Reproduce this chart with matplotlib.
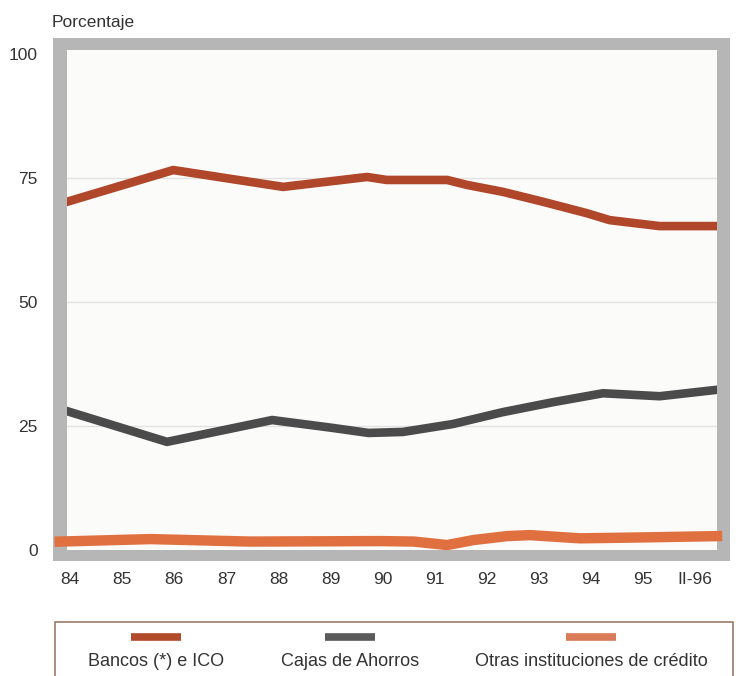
import matplotlib
matplotlib.use("Agg")
import matplotlib.pyplot as plt
from matplotlib.patches import Rectangle
from matplotlib.lines import Line2D

plt.rcParams['font.family'] = ['Liberation Sans', 'DejaVu Sans']

# Cuota de mercado por tipo de entidad (porcentaje)
bancos_x = [83.94, 85.98, 88.09, 89.70, 90.08, 91.24, 91.62, 92.31, 93.08, 93.92, 94.36, 95.32, 96.42]
bancos_y = [70.2, 76.6, 73.2, 75.2, 74.6, 74.6, 73.6, 72.2, 70.2, 67.9, 66.5, 65.3, 65.3]

cajas_x = [83.94, 85.86, 87.88, 89.05, 89.73, 90.39, 91.35, 92.31, 93.27, 94.23, 95.32, 96.42]
cajas_y = [28.0, 21.8, 26.2, 24.6, 23.6, 23.8, 25.4, 27.8, 29.8, 31.6, 31.0, 32.3]

otras_x = [83.80, 85.54, 87.45, 89.95, 90.60, 91.24, 91.74, 92.39, 92.83, 93.79, 95.07, 96.42]
otras_y = [1.7, 2.2, 1.7, 1.8, 1.7, 1.0, 2.0, 2.8, 3.0, 2.35, 2.55, 2.8]

x_ticks = [84, 85, 86, 87, 88, 89, 90, 91, 92, 93, 94, 95, 96]
x_labels = ["84", "85", "86", "87", "88", "89", "90", "91", "92", "93", "94", "95", "II-96"]
y_ticks = [0, 25, 50, 75, 100]

series_names = ["Bancos (*) e ICO", "Cajas de Ahorros", "Otras instituciones de crédito"]
line_colors = ["#b0462a", "#4b4b4b", "#e0703f"]
swatch_colors = ["#b24a2c", "#5a5a5a", "#d97a58"]

W, H = 743, 676
fig = plt.figure(figsize=(W / 100, H / 100), dpi=100)
fig.patch.set_facecolor("white")

def fx(px):
    return px / W

def fy(py):
    return 1 - py / H

# thick grey frame around the plotting area (drawn beneath the axes)
frame = Rectangle((fx(53), fy(561)), fx(730) - fx(53), fy(38) - fy(561),
                  transform=fig.transFigure, facecolor="#b6b6b6", edgecolor="none", zorder=-5)
fig.patches.append(frame)

ax = fig.add_axes([fx(67), fy(550), fx(717) - fx(67), fy(50) - fy(550)])
ax.set_zorder(2)
ax.set_facecolor("#fbfbfa")
ax.set_xlim(83.94, 96.42)
ax.set_ylim(0, 100.8)

for g in [25, 50, 75]:
    ax.axhline(g, color="#e2e2e2", lw=1.0, zorder=1)

ax.plot(bancos_x, bancos_y, color=line_colors[0], lw=6.2, solid_joinstyle="round", zorder=3)
ax.plot(cajas_x, cajas_y, color=line_colors[1], lw=6.2, solid_joinstyle="round", zorder=3)
ax.plot(otras_x, otras_y, color=line_colors[2], lw=7.5, solid_joinstyle="round", zorder=3, clip_on=False)

for s in ax.spines.values():
    s.set_visible(False)

ax.set_xticks(x_ticks)
ax.set_xticklabels(x_labels)
ax.set_yticks(y_ticks)
ax.tick_params(axis="both", length=0, labelsize=12.5, colors="#333333")
ax.tick_params(axis="x", pad=16)
ax.tick_params(axis="y", pad=21)

fig.text(fx(52), fy(22), "Porcentaje", fontsize=12.5, color="#333333", ha="left", va="center")

# legend box below the chart
legbox = Rectangle((fx(55), fy(690)), fx(733) - fx(55), fy(622) - fy(690),
                   transform=fig.transFigure, facecolor="white", edgecolor="#9c7a6a", lw=1.2, zorder=-5)
fig.patches.append(legbox)

centers = [156, 350, 591]
for cx, name, col in zip(centers, series_names, swatch_colors):
    fig.lines.append(Line2D([fx(cx - 25), fx(cx + 25)], [fy(637), fy(637)],
                            transform=fig.transFigure, color=col, lw=5.5, solid_capstyle="butt"))
    fig.text(fx(cx), fy(661), name, fontsize=13, color="#333333", ha="center", va="center")

fig.savefig("out.png", dpi=100)
